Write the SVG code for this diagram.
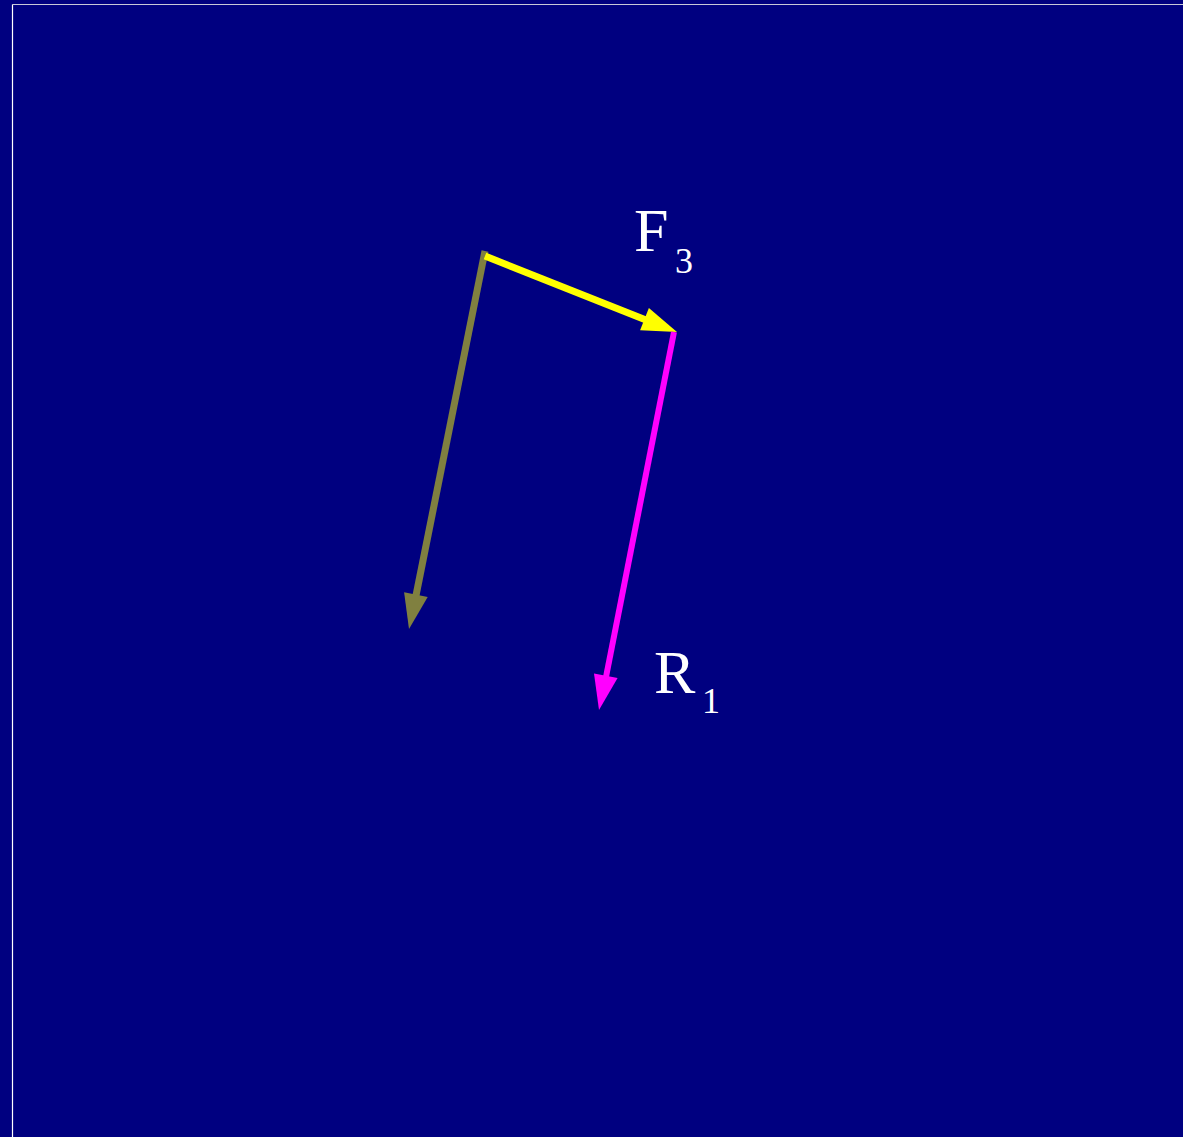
<svg xmlns="http://www.w3.org/2000/svg" width="1183" height="1137" viewBox="0 0 1183 1137">
<style>
.lbl{font-family:"Liberation Serif","Times New Roman",serif;fill:#ffffff}
.big{font-size:62px}
.sub{font-size:36px}
</style>
<rect x="0" y="0" width="1183" height="1137" fill="#000080"/>
<g id="frame">
<line x1="12.5" y1="4.5" x2="1183" y2="4.5" stroke="#c8c8d8" stroke-width="1.2"/>
<line x1="12.5" y1="4.5" x2="12.5" y2="1137" stroke="#ffffff" stroke-width="1.2"/>
</g>
<g id="connectors">
<g id="olive-arrow">
<line x1="485" y1="251" x2="415.9" y2="596" stroke="#808040" stroke-width="7"/>
<polygon points="409,629 427.7,597.1 404.1,592.3" fill="#808040"/>
</g>
<g id="yellow-arrow">
<line x1="485" y1="256" x2="646" y2="320" stroke="#ffff00" stroke-width="7"/>
<polygon points="677,332 640.1,330.3 648.9,307.9" fill="#ffff00"/>
</g>
<g id="magenta-arrow">
<line x1="674" y1="332" x2="606" y2="677" stroke="#ff00ff" stroke-width="6"/>
<polygon points="599,710 617.6,678 594,673.4" fill="#ff00ff"/>
</g>
</g>
<g id="label-F3">
<text class="lbl big" x="634" y="251">F</text>
<text class="lbl sub" x="675" y="273">3</text>
</g>
<g id="label-R1">
<text class="lbl big" x="654" y="693">R</text>
<text class="lbl sub" x="702" y="713">1</text>
</g>
</svg>
